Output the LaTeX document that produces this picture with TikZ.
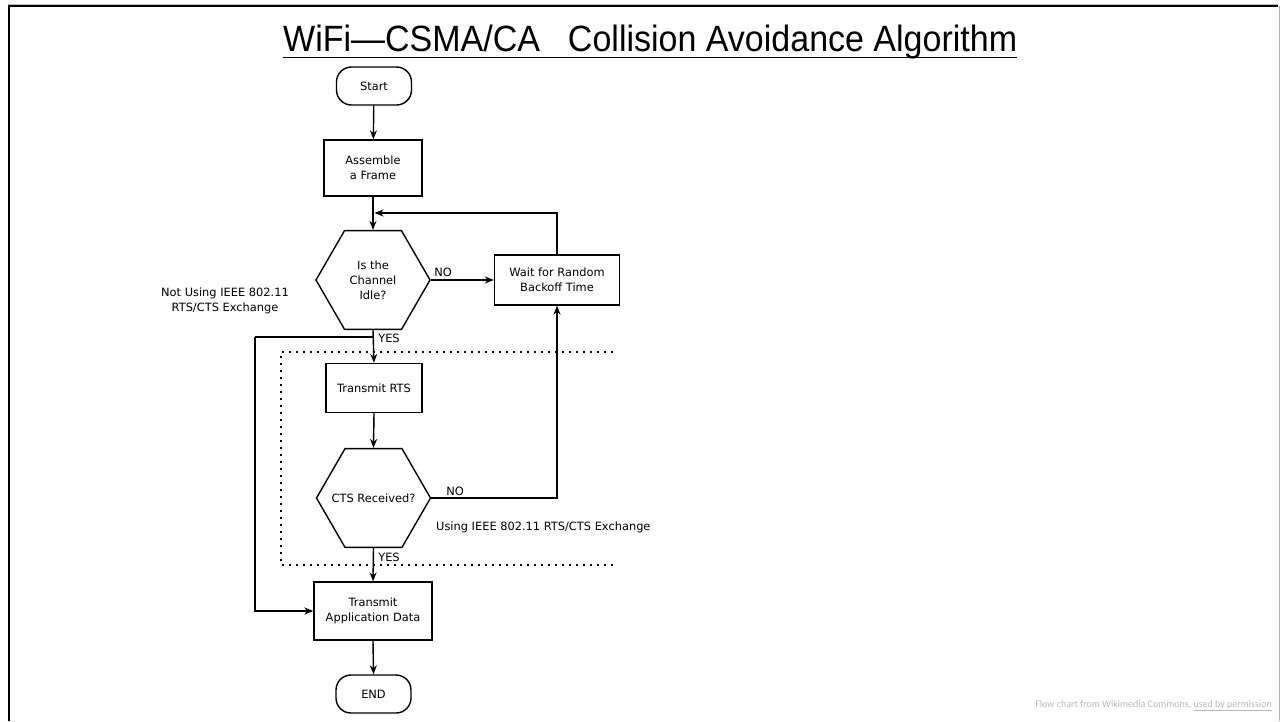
\documentclass[tikz,border=0pt]{standalone}
\usepackage{fontspec}
\setmainfont{DejaVu Sans}
\newfontfamily\titlefont{Liberation Sans}
\newfontfamily\notefont{Carlito}
\usetikzlibrary{shapes.geometric,arrows.meta}
\begin{document}
\begin{tikzpicture}[x=1pt,y=-1pt,
  flow/.style={draw, line width=1.4pt, align=center, inner sep=0pt,
    font=\fontsize{11.4pt}{15pt}\selectfont},
  term/.style={flow, rectangle, rounded corners=15pt, minimum width=75pt, minimum height=38pt},
  proc/.style={flow, rectangle},
  dec/.style={flow, regular polygon, regular polygon sides=6, minimum size=114pt},
  conn/.style={line width=1.4pt, -{Stealth[length=9pt,width=7pt]}},
  plain/.style={line width=1.4pt},
  lbl/.style={inner sep=0pt, align=center, font=\fontsize{11.4pt}{15pt}\selectfont},
  boundary/.style={line width=1.6pt, dash pattern=on 1.6pt off 5.4pt}
]
\useasboundingbox (0,0) rectangle (1281,721);
% frame
\draw[black!25, line width=1pt] (8,4) -- (1279,4);
\draw[black, line width=2.2pt] (9,721) -- (9,6) -- (1278,6);
\draw[black!30, line width=1pt] (1279.5,6) -- (1279.5,721);

% title
\node[anchor=base west, inner sep=0pt] (title) at (283,51.5)
  {\resizebox{734pt}{26.5pt}{\titlefont\fontsize{36pt}{36pt}\selectfont WiFi—CSMA/CA\hspace{0.82em}Collision Avoidance Algorithm}};
\draw[line width=1.8pt] (283,57.5) -- (1017,57.5);

% nodes
\node[term] (start) at (374,86) {Start};
\node[proc, minimum width=98pt, minimum height=56pt] (assemble) at (373,168) {Assemble\\a Frame};
\node[dec, label={[lbl]center:{Is the\\Channel\\Idle?}}] (idle) at (373,280) {};
\node[proc, minimum width=125pt, minimum height=50pt] (wait) at (557,280) {Wait for Random\\Backoff Time};
\node[proc, minimum width=96pt, minimum height=49pt] (rts) at (374,388) {Transmit RTS};
\node[dec, label={[lbl]center:{CTS Received?}}] (cts) at (373.5,498) {};
\node[proc, minimum width=118pt, minimum height=58pt] (app) at (373,611) {Transmit\\Application Data};
\node[term] (end) at (373.5,694) {END};

% labels
\node[lbl] (notusing) at (225,301) {Not Using IEEE 802.11\\RTS/CTS Exchange};
\node[lbl, anchor=west] (using) at (436,527) {Using IEEE 802.11 RTS/CTS Exchange};
\node[lbl] (no1) at (443,272) {NO};
\node[lbl] (no2) at (455,491) {NO};
\node[lbl] (yes1) at (389,338) {YES};
\node[lbl] (yes2) at (389,557) {YES};

% dotted boundary
\draw[boundary] (613,352) -- (281,352) -- (281,565) -- (613,565);

% helper coordinates
\coordinate (merge) at (374.5,213);
\coordinate (split) at (374,337);
\coordinate (bypass) at (255,337);

% connectors
\draw[conn] (start) -- (assemble);
\draw[conn] (assemble) -- (idle);
\draw[conn] (wait.north) |- (merge);
\draw[conn] (idle.east) -- (wait.west);
\draw[conn] (idle.south) -- (rts.north);
\draw[plain] (split) -- (bypass);
\draw[conn] (bypass) |- (app.west);
\draw[conn] (rts.south) -- (cts.north);
\draw[conn] (cts.east) -| (wait.south);
\draw[conn] (cts.south) -- (app.north);
\draw[conn] (app.south) -- (end.north);

% credit
\node[anchor=base east, inner sep=0pt, text=black!28, font=\notefont\fontsize{10pt}{12pt}\selectfont] (credit) at (1272,707)
  {Flow chart from Wikimedia Commons, \underline{used by permission}};
\end{tikzpicture}
\end{document}
